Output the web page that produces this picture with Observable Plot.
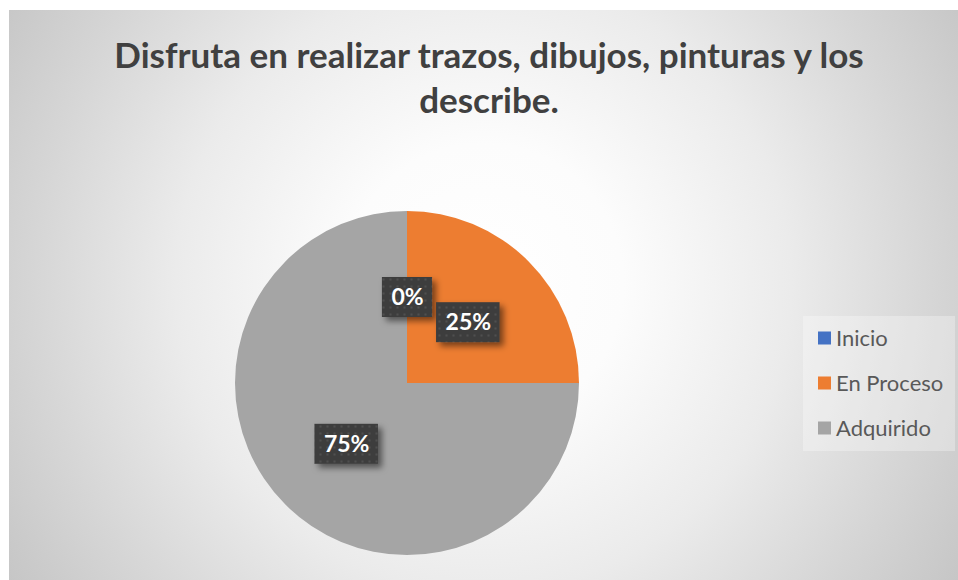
<!DOCTYPE html>
<html><head><meta charset="utf-8">
<script src="https://cdn.jsdelivr.net/npm/d3@7"></script>
<script src="https://cdn.jsdelivr.net/npm/@observablehq/plot@0.6"></script>
<style>
body{margin:0;background:#fff;}
#chart{position:absolute;left:9px;top:10px;width:949px;height:570px;
background:radial-gradient(circle at 50% 48%, #ffffff 0%, #fcfcfc 25%, #ebebeb 55%, #d6d6d6 80%, #c6c6c6 100%);overflow:hidden;}
#chart svg{display:block;}
</style></head><body><div id="chart"></div>
<script>
const categories = ["Inicio", "En Proceso", "Adquirido"];
const values = [0, 25, 75];
const labels = ["0%", "25%", "75%"];
const colors = ["#4472C4", "#ED7D31", "#A5A5A5"];
const titleText = "Disfruta en realizar trazos, dibujos, pinturas y los\ndescribe.";

const data = categories.map((c, i) => ({category: c, value: values[i], label: labels[i]}));
const arcs = d3.pie().sort(null).value(d => d.value)(data);
const unitArc = d3.arc().innerRadius(0).outerRadius(1);
const slices = arcs.map(a => {
  const [cxu, cyu] = unitArc.centroid(a);
  return {...a.data, startAngle: a.startAngle, endAngle: a.endAngle, lx: cxu, ly: -cyu};
});

const W = 949, H = 570;
const CX = 398, CY = 373, R = 172;
const colorScale = Plot.scale({color: {domain: categories, range: colors}});

const LABEL_FONT = "bold 23px Lato";
const ctx = document.createElement("canvas").getContext("2d");
ctx.font = LABEL_FONT;

function pieMark(index, scales) {
  const g = d3.create("svg:g");
  const x0 = scales.x(0), y0 = scales.y(0), r = scales.x(1) - scales.x(0);
  const arc = d3.arc().innerRadius(0).outerRadius(r);
  g.attr("transform", `translate(${x0},${y0})`);
  g.selectAll("path").data(slices.filter(d => d.value > 0)).join("path")
    .attr("d", d => arc(d))
    .attr("fill", d => colorScale.apply(d.category));
  return g.node();
}

function labelBoxes(index, scales) {
  const g = d3.create("svg:g");
  const defs = g.append("defs");
  const pat = defs.append("pattern").attr("id", "dots").attr("patternUnits", "userSpaceOnUse")
    .attr("width", 7).attr("height", 7);
  pat.append("rect").attr("width", 7).attr("height", 7).attr("fill", "#3d3d3d");
  pat.append("rect").attr("x", 2.5).attr("y", 2.5).attr("width", 2).attr("height", 2).attr("fill", "#505050");
  const f = defs.append("filter").attr("id", "shadow").attr("x", "-30%").attr("y", "-30%").attr("width", "170%").attr("height", "170%");
  f.append("feDropShadow").attr("dx", 4).attr("dy", 4).attr("stdDeviation", 3)
    .attr("flood-color", "#000").attr("flood-opacity", 0.5);
  for (const d of slices) {
    const w = ctx.measureText(d.label).width + 18, h = 40;
    const px = scales.x(d.lx), py = scales.y(d.ly);
    g.append("rect").attr("x", px - w / 2).attr("y", py - h / 2).attr("width", w).attr("height", h)
      .attr("fill", "url(#dots)").attr("filter", "url(#shadow)");
  }
  return g.node();
}

function legendMark() {
  const g = d3.create("svg:g").attr("text-anchor", "start");
  g.append("rect").attr("x", 794).attr("y", 306).attr("width", 152).attr("height", 135)
    .attr("fill", "#ffffff").attr("fill-opacity", 0.3);
  categories.forEach((c, i) => {
    const yc = 328 + i * 45;
    g.append("rect").attr("x", 809).attr("y", yc - 6.5).attr("width", 13).attr("height", 13)
      .attr("fill", colorScale.apply(c));
    g.append("text").attr("x", 827).attr("y", yc).attr("dy", "0.36em")
      .attr("fill", "#595959").attr("font-size", 22).attr("font-family", "Lato").text(c);
  });
  return g.node();
}

const plot = Plot.plot({
  width: W, height: H, margin: 0,
  style: {background: "transparent", fontFamily: "Lato"},
  x: {domain: [-1, 1], range: [CX - R, CX + R], axis: null},
  y: {domain: [-1, 1], range: [CY + R, CY - R], axis: null},
  marks: [
    Plot.text([titleText], {frameAnchor: "top", dx: 5, dy: 26, fontSize: 35, fontWeight: "bold",
      fill: "#404040", lineHeight: 1.28, text: d => d}),
    pieMark,
    labelBoxes,
    Plot.text(slices, {x: "lx", y: "ly", text: "label", fill: "white", fontSize: 23, fontWeight: "bold"}),
    legendMark
  ]
});
document.getElementById("chart").appendChild(plot);
</script></body></html>
